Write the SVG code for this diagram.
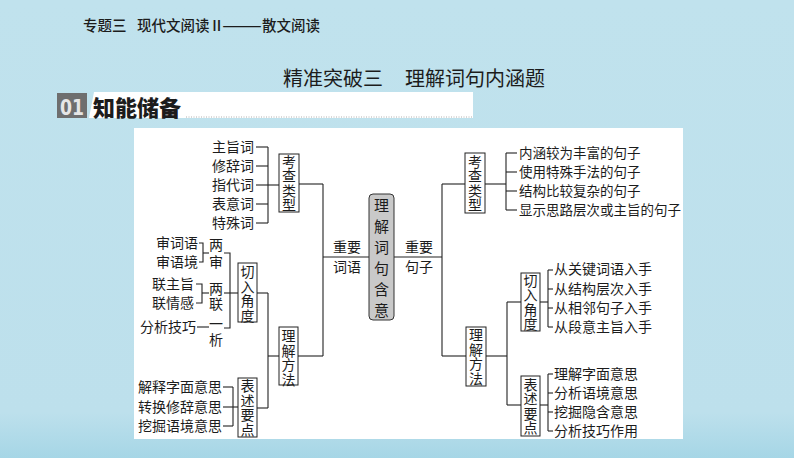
<svg xmlns="http://www.w3.org/2000/svg" width="794" height="458" viewBox="0 0 794 458">
<defs>
<linearGradient id="bg" x1="0" y1="0" x2="0" y2="1">
<stop offset="0" stop-color="#c0e2ed"/>
<stop offset="0.9" stop-color="#bde0ec"/>
<stop offset="1" stop-color="#a6d6e6"/>
</linearGradient>
<style>
text{font-family:"Noto Sans CJK SC","Noto Sans CJK JP",sans-serif;fill:#1c1c1c;}
.t{font-size:14px;}
.r{font-size:13.5px;}
.box{fill:#ffffff;stroke:#222;stroke-width:1;}
.c line,.c polyline{stroke:#222;stroke-width:1.1;fill:none;}
.v{font-size:14px;text-anchor:middle;writing-mode:vertical-rl;letter-spacing:0.5px;}
</style>
</defs>
<rect x="0" y="0" width="794" height="458" fill="url(#bg)"/>
<!-- header -->
<text font-size="14.5" font-weight="500" y="31"><tspan x="83">专题三</tspan><tspan x="137">现代文阅读Ⅱ</tspan><tspan x="222" textLength="40" lengthAdjust="spacingAndGlyphs">——</tspan><tspan x="262">散文阅读</tspan></text>
<text font-size="20" y="86"><tspan x="283">精准突破三</tspan><tspan x="405">理解词句内涵题</tspan></text>
<!-- banner -->
<g id="banner">
<polygon points="89,118 94,92 473,92 473,118" fill="#ffffff"/>
<rect x="57" y="93" width="30" height="25" fill="#6e6e6e"/>
<text x="72" y="115" font-weight="bold" font-size="22" text-anchor="middle" style="fill:#e6e6e6;font-family:'DejaVu Sans Condensed',sans-serif" textLength="24" lengthAdjust="spacingAndGlyphs">01</text>
<text x="93" y="116" font-size="22" font-weight="900">知能储备</text>
<line x1="186" y1="117" x2="472" y2="117" stroke="#b0b0b0" stroke-width="1" stroke-dasharray="1,1.5"/>
</g>
<!-- panel -->
<rect x="134" y="128" width="549" height="311" fill="#ffffff"/>
<!-- connectors -->
<g id="connectors" class="c">
<line x1="256" y1="147" x2="268" y2="147"/>
<line x1="256" y1="166" x2="268" y2="166"/>
<line x1="256" y1="185" x2="279" y2="185"/>
<line x1="256" y1="204" x2="268" y2="204"/>
<line x1="256" y1="223" x2="268" y2="223"/>
<line x1="268" y1="147" x2="268" y2="223"/>
<line x1="299" y1="184" x2="323" y2="184"/>
<line x1="323" y1="184" x2="323" y2="356"/>
<line x1="323" y1="257" x2="369" y2="257"/>
<line x1="298" y1="356" x2="323" y2="356"/>
<polyline points="199,243 203,243 203,262 199,262"/>
<line x1="203" y1="253" x2="209" y2="253"/>
<polyline points="196,284 202,284 202,303 196,303"/>
<line x1="202" y1="293" x2="209" y2="293"/>
<line x1="197" y1="327" x2="209" y2="327"/>
<polyline points="224,253 230,253 230,328 224,328"/>
<line x1="224" y1="293" x2="238" y2="293"/>
<line x1="257" y1="293" x2="268" y2="293"/>
<line x1="268" y1="293" x2="268" y2="408"/>
<line x1="268" y1="356" x2="279" y2="356"/>
<line x1="257" y1="408" x2="268" y2="408"/>
<line x1="223" y1="387" x2="233" y2="387"/>
<line x1="223" y1="407" x2="238" y2="407"/>
<line x1="223" y1="426" x2="233" y2="426"/>
<line x1="233" y1="387" x2="233" y2="426"/>
<line x1="394" y1="257" x2="442" y2="257"/>
<line x1="442" y1="184" x2="442" y2="356"/>
<line x1="442" y1="184" x2="465" y2="184"/>
<line x1="485" y1="184" x2="506" y2="184"/>
<line x1="506" y1="153" x2="506" y2="210"/>
<line x1="506" y1="153" x2="517" y2="153"/>
<line x1="506" y1="172" x2="517" y2="172"/>
<line x1="506" y1="191" x2="517" y2="191"/>
<line x1="506" y1="210" x2="517" y2="210"/>
<line x1="442" y1="356" x2="466" y2="356"/>
<line x1="486" y1="356" x2="507" y2="356"/>
<line x1="507" y1="302" x2="507" y2="405"/>
<line x1="507" y1="302" x2="521" y2="302"/>
<line x1="507" y1="405" x2="521" y2="405"/>
<line x1="540" y1="302" x2="548" y2="302"/>
<line x1="548" y1="270" x2="548" y2="327"/>
<line x1="548" y1="270" x2="553" y2="270"/>
<line x1="548" y1="289" x2="553" y2="289"/>
<line x1="548" y1="308" x2="553" y2="308"/>
<line x1="548" y1="327" x2="553" y2="327"/>
<line x1="540" y1="405" x2="548" y2="405"/>
<line x1="548" y1="374" x2="548" y2="431"/>
<line x1="548" y1="374" x2="553" y2="374"/>
<line x1="548" y1="393" x2="553" y2="393"/>
<line x1="548" y1="412" x2="553" y2="412"/>
<line x1="548" y1="431" x2="553" y2="431"/>
</g>
<!-- center -->
<g id="center">
<rect x="369" y="194" width="25" height="126" rx="4" fill="#c9c9c9" stroke="#333" stroke-width="1"/>
<text class="v" x="381.5" y="260.5" style="font-size:15px;letter-spacing:6px">理解词句含意</text>
</g>
<g id="zhongyao-ciyu"><text class="t" text-anchor="middle"><tspan x="347" y="252">重要</tspan><tspan x="347" y="272">词语</tspan></text></g>
<g id="zhongyao-juzi"><text class="t" text-anchor="middle"><tspan x="419" y="252">重要</tspan><tspan x="419" y="272">句子</tspan></text></g>
<!-- left nodes -->
<g id="l-kaocha">
<rect class="box" x="279" y="154" width="20" height="58"/>
<text class="v" x="289" y="183.5">考查类型</text>
</g>
<g id="l-kaocha-items">
<text class="t" text-anchor="end"><tspan x="254" y="152">主旨词</tspan><tspan x="254" y="171">修辞词</tspan><tspan x="254" y="190">指代词</tspan><tspan x="254" y="209">表意词</tspan><tspan x="254" y="228">特殊词</tspan></text>
</g>
<g id="l-liangshen">
<text class="t" text-anchor="end"><tspan x="198" y="248">审词语</tspan><tspan x="198" y="267">审语境</tspan></text>
<text class="v" x="216" y="255" style="letter-spacing:3px">两审</text>
</g>
<g id="l-lianglian">
<text class="t" text-anchor="end"><tspan x="194" y="289">联主旨</tspan><tspan x="194" y="308">联情感</tspan></text>
<text class="v" x="216" y="296.5" style="letter-spacing:1px">两联</text>
</g>
<g id="l-yixi">
<text class="t" text-anchor="end" x="196" y="332">分析技巧</text>
<text class="v" x="216" y="333" style="letter-spacing:2px">一析</text>
</g>
<g id="l-qieru">
<rect class="box" x="238" y="263" width="19" height="59"/>
<text class="v" x="247.5" y="294">切入角度</text>
</g>
<g id="l-lijie">
<rect class="box" x="279" y="327" width="19" height="58"/>
<text class="v" x="288.5" y="358">理解方法</text>
</g>
<g id="l-biaoshu">
<rect class="box" x="238" y="378" width="19" height="59"/>
<text class="v" x="247.5" y="408">表述要点</text>
</g>
<g id="l-biaoshu-items">
<text class="t" text-anchor="end"><tspan x="222" y="392">解释字面意思</tspan><tspan x="222" y="412">转换修辞意思</tspan><tspan x="222" y="431">挖掘语境意思</tspan></text>
</g>
<!-- right nodes -->
<g id="r-kaocha">
<rect class="box" x="465" y="153" width="20" height="60"/>
<text class="v" x="475" y="183.5">考查类型</text>
</g>
<g id="r-kaocha-items">
<text class="r"><tspan x="519" y="158">内涵较为丰富的句子</tspan><tspan x="519" y="177">使用特殊手法的句子</tspan><tspan x="519" y="196">结构比较复杂的句子</tspan><tspan x="519" y="215">显示思路层次或主旨的句子</tspan></text>
</g>
<g id="r-lijie">
<rect class="box" x="466" y="327" width="20" height="59"/>
<text class="v" x="476" y="357">理解方法</text>
</g>
<g id="r-qieru">
<rect class="box" x="521" y="273" width="19" height="58"/>
<text class="v" x="530.5" y="302.5">切入角度</text>
</g>
<g id="r-qieru-items">
<text class="t"><tspan x="554" y="274">从关键词语入手</tspan><tspan x="554" y="294">从结构层次入手</tspan><tspan x="554" y="313">从相邻句子入手</tspan><tspan x="554" y="332">从段意主旨入手</tspan></text>
</g>
<g id="r-biaoshu">
<rect class="box" x="521" y="376" width="19" height="60"/>
<text class="v" x="530.5" y="406.5">表述要点</text>
</g>
<g id="r-biaoshu-items">
<text class="t"><tspan x="554" y="379">理解字面意思</tspan><tspan x="554" y="398">分析语境意思</tspan><tspan x="554" y="417">挖掘隐含意思</tspan><tspan x="554" y="436">分析技巧作用</tspan></text>
</g>
</svg>
